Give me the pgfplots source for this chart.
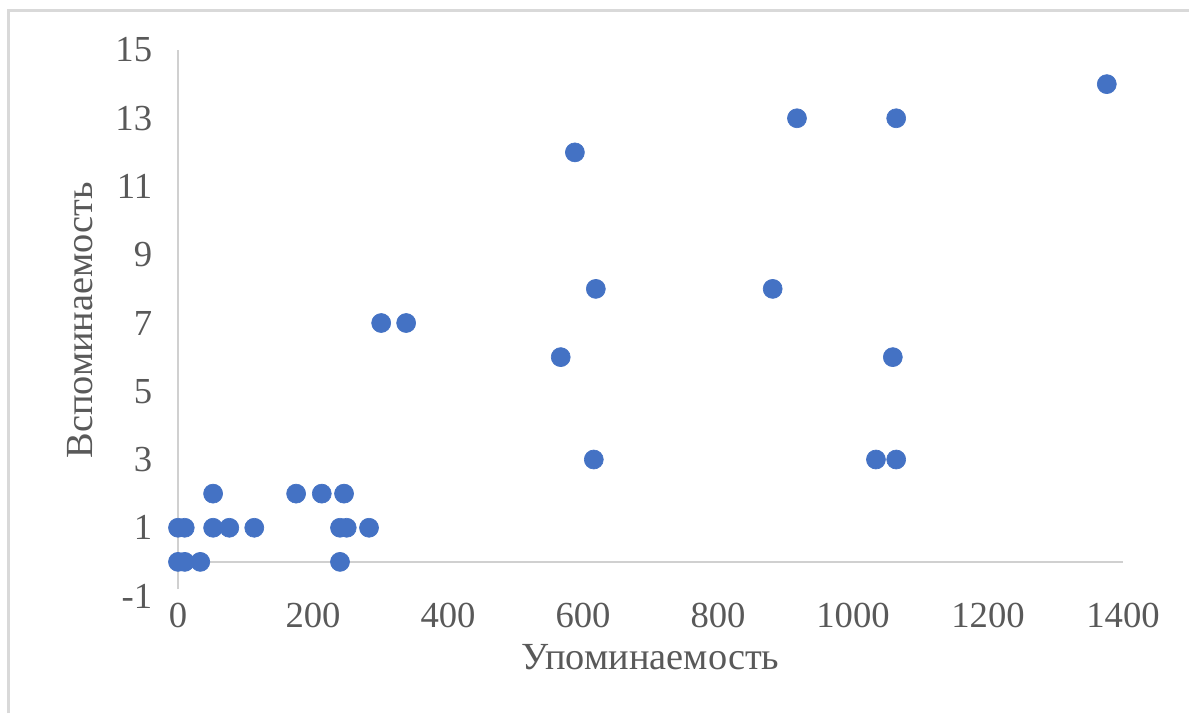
\documentclass[border=0pt]{standalone}
\usepackage{fontspec}
\setmainfont{Liberation Serif}
\usepackage{pgfplots}
\pgfplotsset{compat=1.18}
\definecolor{dotblue}{HTML}{4472C4}
\definecolor{axgray}{HTML}{D0D0D0}
\definecolor{txtgray}{HTML}{595959}
\definecolor{framegray}{HTML}{D9D9D9}
\begin{document}
\begin{tikzpicture}[x=0.6pt,y=0.6pt]
\useasboundingbox (0,0) rectangle (1189,713);
\draw[framegray,line width=1.8pt] (8,0) -- (8,702) -- (1189,702);
\begin{axis}[
  at={(178*0.6pt,117*0.6pt)}, anchor=south west,
  scale only axis, width=567pt, height=327.6pt,
  xmin=0, xmax=1400, ymin=-1, ymax=15,
  axis line style={draw=none},
  xtick={0,200,...,1400}, ytick={-1,1,...,15},
  tick style={draw=none},
  clip=false,
  /pgf/number format/assume math mode=true,
  /pgf/number format/1000 sep={},
  ticklabel style={font=\fontsize{22}{24}\selectfont, text=txtgray},
  xticklabel style={yshift=-1pt},
  yticklabel style={xshift=-12pt},
  label style={font=\fontsize{23}{26}\selectfont, text=txtgray},
  xlabel={Упоминаемость},
  ylabel={Вспоминаемость},
  xlabel style={at={(axis description cs:0.5,-0.112)}, anchor=center},
  ylabel style={at={(axis description cs:-0.104,0.505)}, anchor=center},
]
\draw[axgray, line width=1.4pt] (axis cs:0,-0.8) -- (axis cs:0,15);
\draw[axgray, line width=1.4pt] (axis cs:0,0) -- (axis cs:1400,0);
\addplot[only marks, mark=*, mark size=5.7pt, mark options={draw=dotblue, fill=dotblue}] coordinates {
(0,1) (10,1) (52,1) (76,1) (113,1) (240,1) (250,1) (283,1)
(0,0) (10,0) (33,0) (240,0)
(52,2) (175,2) (213,2) (246,2)
(301,7) (338,7)
(567,6) (588,12) (619,8) (616,3)
(881,8) (917,13)
(1034,3) (1059,6) (1064,3) (1064,13)
(1376,14)
};
\end{axis}
\end{tikzpicture}
\end{document}
